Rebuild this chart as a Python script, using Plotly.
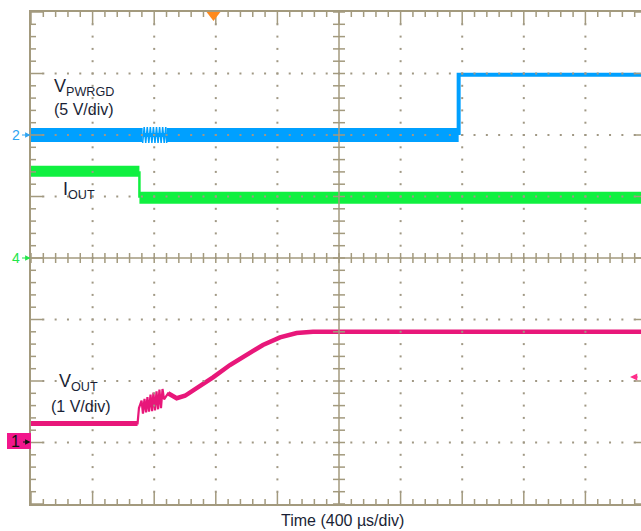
import plotly.graph_objects as go

# ---------------- data (time in µs, level in screen divisions) ----------------
US_PER_DIV = 400
X_MAX = 3961            # visible right edge of the screen (just under 10 div)

# Channel 2 : V_PWRGD (5 V/div), reference at 6 div
PWRGD_T = [0, 725, 881, 2777, 2777, 3961]
PWRGD_V = [6.0, 6.0, 6.0, 6.0, 6.98, 6.98]
# burst of spikes on V_PWRGD while the current steps
PWRGD_BURST_T = [725, 735, 745, 755, 765, 775, 785, 795, 805, 815, 825, 835, 845,
                 855, 865, 875, 881]
PWRGD_BURST_V = [5.87, 6.13, 5.87, 6.13, 5.87, 6.13, 5.87, 6.13, 5.87, 6.13, 5.87,
                 6.13, 5.87, 6.13, 5.87, 6.13, 5.87]

# Channel 4 : I_OUT, reference at 4 div
IOUT_T = [0, 704, 704, 3961]
IOUT_V = [5.41, 5.41, 4.98, 4.98]

# Channel 1 : V_OUT (1 V/div), reference at 1 div
VOUT_T = [0, 692, 701, 718, 727, 737, 747, 756, 766, 776, 786, 795, 805, 815,
          825, 834, 844, 854, 864, 890, 916, 946, 1000, 1076, 1182, 1292, 1401,
          1506, 1617, 1725, 1831, 1985, 3961]
VOUT_V = [1.31, 1.31, 1.56, 1.68, 1.47, 1.71, 1.49, 1.74, 1.50, 1.78, 1.51, 1.81,
          1.52, 1.83, 1.54, 1.86, 1.56, 1.87, 1.70, 1.80, 1.77, 1.72, 1.76, 1.88,
          2.06, 2.26, 2.42, 2.585, 2.71, 2.78, 2.80, 2.80, 2.80]
RING_END = 19           # index after which the ringing is over

TRIGGER_T = 1185        # trigger position marker (top)
TRIGGER_LEVEL = 2.065   # trigger level marker (right)

# ---------------- styling ----------------
FRAME = "#a39a7e"
DOT = "#a09884"
BLUE = "#00a0ff"
GREEN = "#10f040"
PINK = "#e8177a"
TXT = "#1a1f36"
FONT = "Liberation Sans, Arial, sans-serif"

PX_X = US_PER_DIV / 61.6   # µs per pixel
PX_Y = 1 / 61.5            # div per pixel

fig = go.Figure()

# traces
fig.add_trace(go.Scatter(x=IOUT_T[0:2], y=IOUT_V[0:2], mode="lines",
                         line=dict(color=GREEN, width=11)))
fig.add_trace(go.Scatter(x=IOUT_T[2:4], y=IOUT_V[2:4], mode="lines",
                         line=dict(color=GREEN, width=12)))
fig.add_trace(go.Scatter(x=IOUT_T[1:3], y=IOUT_V[1:3], mode="lines",
                         line=dict(color=GREEN, width=2.5)))

fig.add_trace(go.Scatter(x=PWRGD_T[0:2], y=PWRGD_V[0:2], mode="lines",
                         line=dict(color=BLUE, width=14)))
fig.add_trace(go.Scatter(x=PWRGD_T[2:4], y=PWRGD_V[2:4], mode="lines",
                         line=dict(color=BLUE, width=14)))
fig.add_trace(go.Scatter(x=PWRGD_BURST_T, y=PWRGD_BURST_V, mode="lines",
                         line=dict(color=BLUE, width=1.5)))
fig.add_trace(go.Scatter(x=PWRGD_BURST_T, y=[6.0] * len(PWRGD_BURST_T), mode="lines",
                         line=dict(color=BLUE, width=4)))
fig.add_trace(go.Scatter(x=PWRGD_T[3:6], y=PWRGD_V[3:6], mode="lines",
                         line=dict(color=BLUE, width=4)))

fig.add_trace(go.Scatter(x=VOUT_T, y=VOUT_V, mode="lines",
                         line=dict(color=PINK, width=2.2)))
fig.add_trace(go.Scatter(x=VOUT_T[:2], y=VOUT_V[:2], mode="lines",
                         line=dict(color=PINK, width=5)))
fig.add_trace(go.Scatter(x=VOUT_T[RING_END:], y=VOUT_V[RING_END:], mode="lines",
                         line=dict(color=PINK, width=4.5)))

# ---------------- graticule (frame ticks, centre axes, dotted grid) ----------------
tx, ty = [], []


def seg(x0, y0, x1, y1):
    tx.extend([x0, x1, None])
    ty.extend([y0, y1, None])


MAJ, MIN = 12, 5
for k in range(0, 51):
    x = k * US_PER_DIV / 5
    L = (MAJ if k % 5 == 0 else MIN) * PX_Y
    seg(x, 8, x, 8 - L)        # top
    seg(x, 0, x, L)            # bottom
    seg(x, 4 - 5 * PX_Y, x, 4 + 5 * PX_Y)   # centre horizontal crossbars
for k in range(0, 41):
    y = k * 0.2
    L = (MAJ if k % 5 == 0 else MIN) * PX_X
    seg(0, y, L, y)            # left
    seg(10 * US_PER_DIV, y, 10 * US_PER_DIV - L, y)   # right (mostly off screen)
    seg(5 * US_PER_DIV - 6 * PX_X, y, 5 * US_PER_DIV + 6 * PX_X, y)  # centre vertical crossbars
seg(0, 4, 10 * US_PER_DIV, 4)
seg(5 * US_PER_DIV, 0, 5 * US_PER_DIV, 8)

fig.add_trace(go.Scatter(x=tx, y=ty, mode="lines", line=dict(color=FRAME, width=1.5),
                         hoverinfo="skip"))

dx, dy = [], []
for i in range(1, 10):
    if i == 5:
        continue
    for k in range(1, 40):
        dx.append(i * US_PER_DIV)
        dy.append(k * 0.2)
for j in range(1, 8):
    if j == 4:
        continue
    for k in range(1, 50):
        dx.append(k * US_PER_DIV / 5)
        dy.append(j)
fig.add_trace(go.Scatter(x=dx, y=dy, mode="markers",
                         marker=dict(symbol="square", size=2, color=DOT, line=dict(width=0)),
                         hoverinfo="skip"))

# trigger position marker
fig.add_trace(go.Scatter(x=[TRIGGER_T], y=[8 - 3 * PX_Y], mode="markers", cliponaxis=False,
                         marker=dict(symbol="triangle-down", size=12, color="#ff8a1c",
                                     line=dict(width=0))))

# ---------------- layout ----------------
fig.update_layout(
    width=641, height=531,
    margin=dict(l=31, r=0, t=12, b=27),
    paper_bgcolor="white", plot_bgcolor="white",
    showlegend=False,
    font=dict(family=FONT, color=TXT),
    xaxis=dict(range=[0, X_MAX], showgrid=False, zeroline=False, showticklabels=False,
               ticks="", showline=True, linecolor=FRAME, linewidth=2, mirror=True),
    yaxis=dict(range=[0, 8], showgrid=False, zeroline=False, showticklabels=False,
               ticks="", showline=True, linecolor=FRAME, linewidth=2, mirror=False),
)


def px2paper(px, py):
    return (px - 31) / 610, (504 - py) / 492


ann = []
# trace labels
ann.append(dict(x=136, y=6.78, text="V<sub>PWRGD</sub>", font=dict(size=18),
                xanchor="left", yanchor="middle", showarrow=False))
ann.append(dict(x=136, y=6.41, text="(5 V/div)", font=dict(size=16),
                xanchor="left", yanchor="middle", showarrow=False))
ann.append(dict(x=195, y=5.09, text="I<sub>OUT</sub>", font=dict(size=18),
                xanchor="left", yanchor="middle", showarrow=False))
ann.append(dict(x=169, y=1.98, text="V<sub>OUT</sub>", font=dict(size=18),
                xanchor="left", yanchor="middle", showarrow=False))
ann.append(dict(x=117, y=1.59, text="(1 V/div)", font=dict(size=16),
                xanchor="left", yanchor="middle", showarrow=False))

# x axis title
x, y = px2paper(342, 520)
ann.append(dict(x=x, y=y, xref="paper", yref="paper", text="Time (400 µs/div)",
                font=dict(size=16), xanchor="center", yanchor="middle", showarrow=False))

# channel reference markers
for label, py, col in [("2", 135, "#2ea4f2"), ("4", 258, "#22e64a")]:
    x, y = px2paper(15.5, py)
    ann.append(dict(x=x, y=y, xref="paper", yref="paper", text=label,
                    font=dict(size=14, color=col), xanchor="center", yanchor="middle",
                    showarrow=False))
    x, y = px2paper(30.5, py)
    ann.append(dict(x=x, y=y, xref="paper", yref="paper", text="", showarrow=True,
                    ax=-10, ay=0, arrowhead=2, arrowsize=0.9, arrowwidth=1.2, arrowcolor=col))

x0, y0 = px2paper(7, 449)
x1, y1 = px2paper(31, 433)
fig.add_shape(type="rect", xref="paper", yref="paper", x0=x0, x1=x1, y0=y0, y1=y1,
              fillcolor="#f2168c", line=dict(width=0), layer="above")
x, y = px2paper(15.5, 441.5)
ann.append(dict(x=x, y=y, xref="paper", yref="paper", text="1",
                font=dict(size=16, color="#111111"), xanchor="center", yanchor="middle",
                showarrow=False))
x, y = px2paper(30.5, 442)
ann.append(dict(x=x, y=y, xref="paper", yref="paper", text="", showarrow=True,
                ax=-9, ay=0, arrowhead=2, arrowsize=0.9, arrowwidth=1.2, arrowcolor="#111111"))

# trigger level marker (right)
ann.append(dict(x=3890, y=TRIGGER_LEVEL, text="", showarrow=True, ax=9, ay=0,
                arrowhead=2, arrowsize=0.9, arrowwidth=1.6, arrowcolor="#ff2d8a"))

fig.update_layout(annotations=ann)
fig.write_html("out.html", config={"displayModeBar": False},
               post_script="document.body.style.margin='0';document.body.style.overflow='hidden';")
